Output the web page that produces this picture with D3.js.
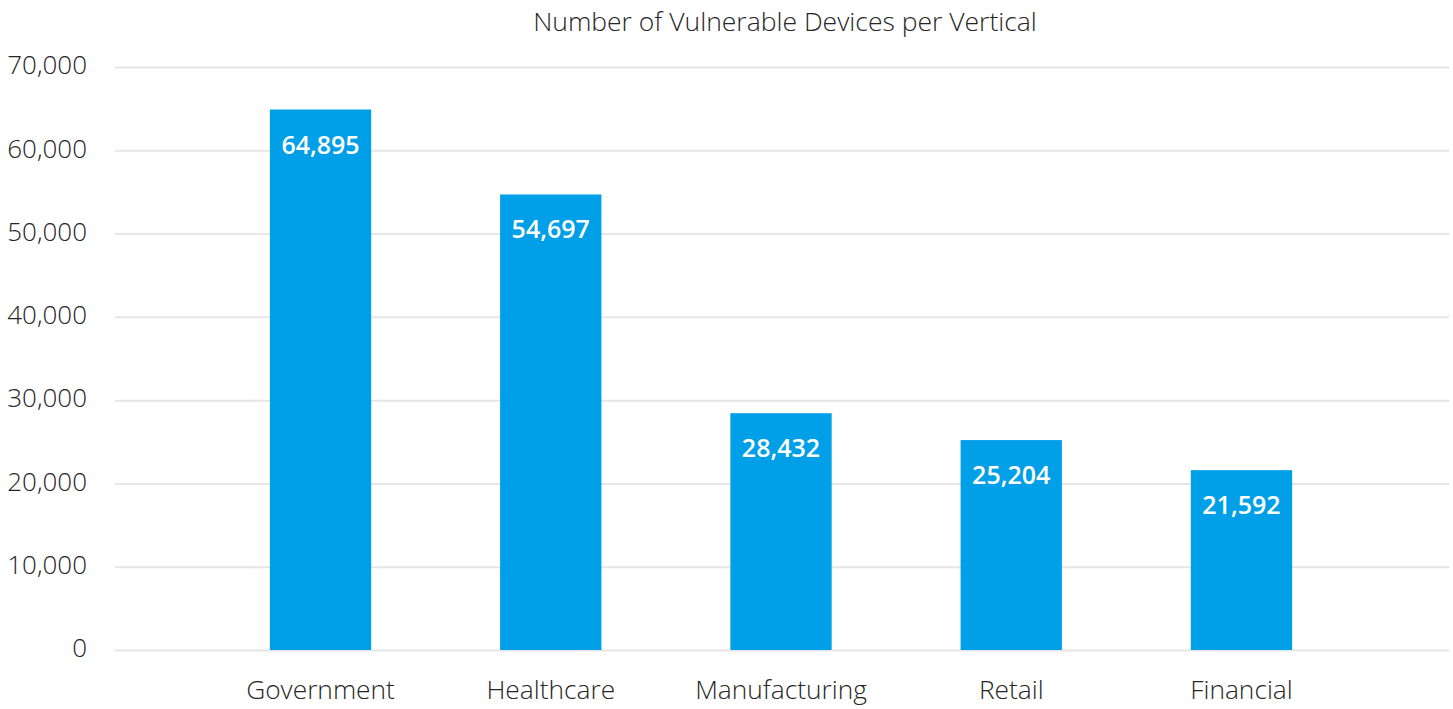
<!DOCTYPE html>
<html>
<head>
<meta charset="utf-8">
<script src="https://cdn.jsdelivr.net/npm/d3@7"></script>
<style>
  html, body { margin: 0; padding: 0; background: #fff; }
  svg { display: block; font-family: "Open Sans", sans-serif; }
</style>
</head>
<body>
<svg id="chart" width="1453" height="709"></svg>
<script>
// Vulnerable devices by industry vertical
const categories = ["Government", "Healthcare", "Manufacturing", "Retail", "Financial"];
const values = [64895, 54697, 28432, 25204, 21592];
const yTicks = [0, 10000, 20000, 30000, 40000, 50000, 60000, 70000];
const title = "Number of Vulnerable Devices per Vertical";

const FONT = '"Open Sans", sans-serif';
const plot = { left: 115, right: 1449, top: 67, bottom: 650 };

const svg = d3.select("#chart");

const y = d3.scaleLinear().domain([0, 70000]).range([plot.bottom, plot.top]);
const x = d3.scaleBand()
  .domain(categories)
  .range([205.4, 1356.6])
  .paddingInner(0.56)
  .paddingOuter(0.28);

const fmt = d3.format(",");

// title
svg.append("text")
  .attr("x", 785)
  .attr("y", 31)
  .attr("text-anchor", "middle")
  .attr("font-family", FONT)
  .attr("font-size", 26.5)
  .attr("font-weight", 300)
  .attr("fill", "#262626")
  .text(title);

// gridlines and value axis labels
const yAxis = d3.axisLeft(y)
  .tickValues(yTicks)
  .tickFormat(fmt)
  .tickSize(-(plot.right - plot.left))
  .tickPadding(28);

const gy = svg.append("g")
  .attr("transform", `translate(${plot.left},0)`)
  .call(yAxis)
  .attr("font-family", FONT);
gy.select(".domain").remove();
gy.selectAll(".tick line")
  .attr("stroke", "#e6e6e6")
  .attr("stroke-width", 2);
gy.selectAll(".tick text")
  .attr("font-size", 26)
  .attr("font-weight", 300)
  .attr("fill", "#262626")
  .attr("dy", "0.26em");

// bars
svg.append("g")
  .selectAll("rect")
  .data(values)
  .join("rect")
  .attr("x", (d, i) => x(categories[i]))
  .attr("y", d => y(d))
  .attr("width", x.bandwidth())
  .attr("height", d => y(0) - y(d))
  .attr("fill", "#009fe8");

// value labels inside bar tops
svg.append("g")
  .selectAll("text")
  .data(values)
  .join("text")
  .attr("x", (d, i) => x(categories[i]) + x.bandwidth() / 2)
  .attr("y", d => y(d) + 44)
  .attr("text-anchor", "middle")
  .attr("font-family", FONT)
  .attr("font-size", 25)
  .attr("font-weight", 600)
  .attr("fill", "#ffffff")
  .text(d => fmt(d));

// category axis
const xAxis = d3.axisBottom(x).tickSize(0).tickPadding(30.5);
const gx = svg.append("g")
  .attr("transform", `translate(0,${plot.bottom})`)
  .call(xAxis)
  .attr("font-family", FONT);
gx.select(".domain").remove();
gx.selectAll(".tick text")
  .attr("font-size", 26.3)
  .attr("font-weight", 300)
  .attr("fill", "#262626")
  .attr("dy", "0.71em");
</script>
</body>
</html>
